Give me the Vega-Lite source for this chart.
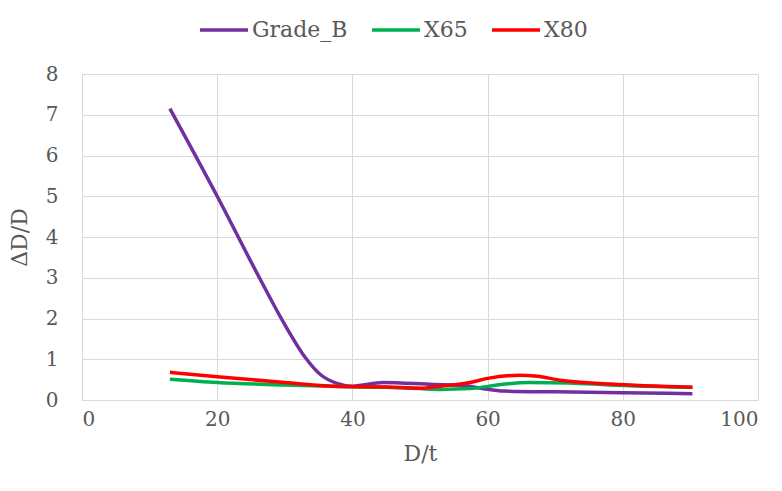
{
  "$schema": "https://vega.github.io/schema/vega-lite/v6.json",
  "width": 676,
  "height": 326,
  "autosize": {"type": "none"},
  "padding": {"left": 82, "top": 74, "right": 24, "bottom": 91},
  "background": "white",
  "config": {
    "view": {"stroke": null},
    "font": "DejaVu Serif",
    "axis": {
      "labelFont": "DejaVu Serif",
      "titleFont": "DejaVu Serif",
      "labelColor": "#595959",
      "titleColor": "#595959",
      "labelFontSize": 20,
      "titleFontSize": 22,
      "titleFontWeight": "normal",
      "gridColor": "#d9d9d9",
      "domainColor": "#d9d9d9",
      "ticks": false
    }
  },
  "data": {
    "values": [
      {"series": "Grade_B", "x": 13, "y": 7.15},
      {"series": "Grade_B", "x": 20, "y": 5.0},
      {"series": "Grade_B", "x": 26.4, "y": 2.95},
      {"series": "Grade_B", "x": 30, "y": 1.85},
      {"series": "Grade_B", "x": 33, "y": 1.05},
      {"series": "Grade_B", "x": 35.3, "y": 0.62},
      {"series": "Grade_B", "x": 37.7, "y": 0.41},
      {"series": "Grade_B", "x": 40, "y": 0.34},
      {"series": "Grade_B", "x": 44.6, "y": 0.43},
      {"series": "Grade_B", "x": 52, "y": 0.38},
      {"series": "Grade_B", "x": 56, "y": 0.36},
      {"series": "Grade_B", "x": 59, "y": 0.29},
      {"series": "Grade_B", "x": 62.4, "y": 0.22},
      {"series": "Grade_B", "x": 70, "y": 0.2},
      {"series": "Grade_B", "x": 80, "y": 0.18},
      {"series": "Grade_B", "x": 90.3, "y": 0.155},
      {"series": "X65", "x": 13, "y": 0.51},
      {"series": "X65", "x": 20, "y": 0.43},
      {"series": "X65", "x": 30, "y": 0.37},
      {"series": "X65", "x": 38, "y": 0.33},
      {"series": "X65", "x": 45, "y": 0.31},
      {"series": "X65", "x": 50, "y": 0.28},
      {"series": "X65", "x": 53, "y": 0.26},
      {"series": "X65", "x": 57.4, "y": 0.28},
      {"series": "X65", "x": 62, "y": 0.38},
      {"series": "X65", "x": 66, "y": 0.43},
      {"series": "X65", "x": 72, "y": 0.42},
      {"series": "X65", "x": 78, "y": 0.37},
      {"series": "X65", "x": 90.3, "y": 0.31},
      {"series": "X80", "x": 13, "y": 0.68},
      {"series": "X80", "x": 20, "y": 0.57},
      {"series": "X80", "x": 30, "y": 0.43},
      {"series": "X80", "x": 38.2, "y": 0.33},
      {"series": "X80", "x": 45, "y": 0.32},
      {"series": "X80", "x": 50, "y": 0.29},
      {"series": "X80", "x": 53, "y": 0.34},
      {"series": "X80", "x": 57.4, "y": 0.43},
      {"series": "X80", "x": 60, "y": 0.53},
      {"series": "X80", "x": 64.8, "y": 0.61},
      {"series": "X80", "x": 67, "y": 0.59},
      {"series": "X80", "x": 71, "y": 0.48},
      {"series": "X80", "x": 78.2, "y": 0.39},
      {"series": "X80", "x": 90.3, "y": 0.31}
    ]
  },
  "mark": {"type": "line", "interpolate": "monotone", "strokeWidth": 3.5},
  "encoding": {
    "x": {
      "field": "x",
      "type": "quantitative",
      "scale": {"domain": [0, 100], "nice": false},
      "axis": {"values": [0, 20, 40, 60, 80, 100], "title": "D/t", "labelPadding": 9, "titlePadding": 14}
    },
    "y": {
      "field": "y",
      "type": "quantitative",
      "scale": {"domain": [0, 8], "nice": false},
      "axis": {"values": [0, 1, 2, 3, 4, 5, 6, 7, 8], "title": "ΔD/D", "labelPadding": 24, "titlePadding": 14}
    },
    "color": {
      "field": "series",
      "type": "nominal",
      "scale": {"domain": ["Grade_B", "X65", "X80"], "range": ["#7030A0", "#00B050", "#FF0000"]},
      "legend": {
        "title": null,
        "orient": "none",
        "direction": "horizontal",
        "legendX": 116,
        "legendY": -70,
        "symbolType": "stroke",
        "symbolSize": 2300,
        "symbolStrokeWidth": 3.5,
        "labelFont": "DejaVu Serif",
        "labelFontSize": 22,
        "labelColor": "#595959",
        "labelOffset": 2,
        "columnPadding": 17
      }
    }
  }
}
